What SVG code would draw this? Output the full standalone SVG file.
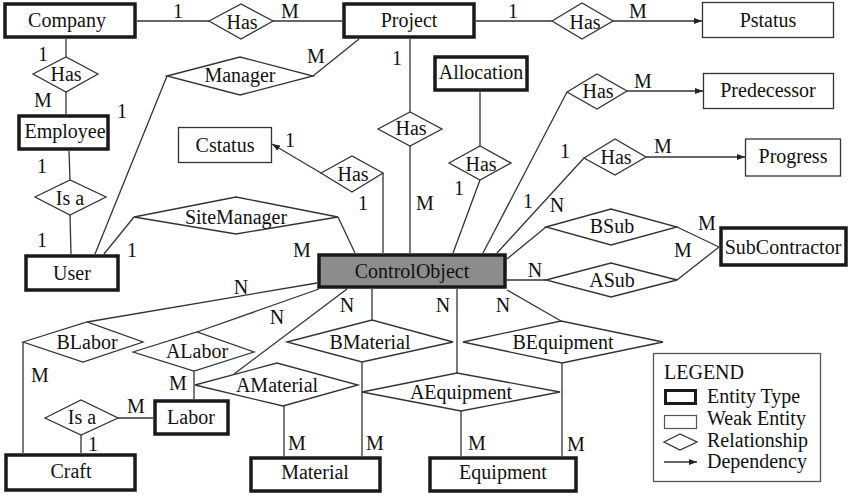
<svg xmlns="http://www.w3.org/2000/svg" width="850" height="497" viewBox="0 0 850 497">
<defs>
<marker id="arr" viewBox="0 0 8 6" refX="8" refY="3" markerWidth="8" markerHeight="6" markerUnits="userSpaceOnUse" orient="auto">
<path d="M0,0 L8,3 L0,6 z" fill="#222"/>
</marker>
</defs>
<style>
text{font-size:20px;fill:#111;text-anchor:middle}
.ent{fill:#fff;stroke:#1a1a1a;stroke-width:3.5}
.weak{fill:#fff;stroke:#333;stroke-width:1.3}
.rel{fill:#fff;stroke:#333;stroke-width:1.3}
.co{fill:#8c8c8c;stroke:#1a1a1a;stroke-width:3.5}
#connectors line{stroke:#333;stroke-width:1.3;fill:none}
.lg{text-anchor:start}
</style>
<rect width="850" height="497" fill="#fff"/>
<g id="connectors">
<line x1="137" y1="21" x2="209" y2="21"/>
<line x1="273" y1="21" x2="342" y2="21"/>
<line x1="476" y1="21" x2="552" y2="21"/>
<line x1="613" y1="21" x2="702" y2="21" marker-end="url(#arr)"/>
<line x1="66" y1="39" x2="66" y2="57"/>
<line x1="66" y1="92" x2="66" y2="114"/>
<line x1="167" y1="76" x2="95" y2="254"/>
<line x1="313" y1="76" x2="359" y2="39"/>
<line x1="410" y1="39" x2="410" y2="112"/>
<line x1="410" y1="146" x2="410" y2="253"/>
<line x1="480" y1="92" x2="480" y2="146"/>
<line x1="480" y1="180" x2="453" y2="253"/>
<line x1="567" y1="92" x2="483" y2="253"/>
<line x1="627" y1="91" x2="703" y2="91" marker-end="url(#arr)"/>
<line x1="584" y1="158" x2="497" y2="253"/>
<line x1="646" y1="157" x2="745" y2="157" marker-end="url(#arr)"/>
<line x1="321" y1="173" x2="272" y2="144" marker-end="url(#arr)"/>
<line x1="383" y1="173" x2="383" y2="253"/>
<line x1="69" y1="151" x2="70" y2="180"/>
<line x1="70" y1="215" x2="71" y2="254"/>
<line x1="134" y1="217" x2="104" y2="254"/>
<line x1="338" y1="217" x2="355" y2="253"/>
<line x1="507" y1="259" x2="546" y2="227"/>
<line x1="507" y1="280" x2="546" y2="280"/>
<line x1="677" y1="227" x2="719" y2="247"/>
<line x1="677" y1="280" x2="719" y2="247"/>
<line x1="317" y1="283" x2="87" y2="322"/>
<line x1="319" y1="289" x2="197" y2="332"/>
<line x1="347" y1="289" x2="234" y2="374"/>
<line x1="372" y1="289" x2="372" y2="320"/>
<line x1="457" y1="289" x2="457" y2="373"/>
<line x1="507" y1="290" x2="561" y2="321"/>
<line x1="23" y1="342" x2="23" y2="453"/>
<line x1="194" y1="371" x2="194" y2="399"/>
<line x1="118" y1="418" x2="153" y2="418"/>
<line x1="81" y1="435" x2="81" y2="453"/>
<line x1="284" y1="405" x2="284" y2="456"/>
<line x1="362" y1="362" x2="362" y2="456"/>
<line x1="461" y1="411" x2="461" y2="456"/>
<line x1="562" y1="363" x2="562" y2="456"/>
</g>
<g font-family="'Liberation Serif', Tinos, 'DejaVu Serif', 'Times New Roman', serif">
<g id="company"><rect class="ent" x="5" y="4" width="130" height="33"/><text x="67" y="27">Company</text></g>
<g id="project"><rect class="ent" x="344" y="4" width="130" height="33"/><text x="409" y="27">Project</text></g>
<g id="pstatus"><rect class="weak" x="702.5" y="2.5" width="131" height="35"/><text x="768" y="27">Pstatus</text></g>
<g id="employee"><rect class="ent" x="19" y="116" width="89" height="33"/><text x="65" y="138">Employee</text></g>
<g id="allocation"><rect class="ent" x="435" y="57" width="92" height="33"/><text x="481" y="79">Allocation</text></g>
<g id="predecessor"><rect class="weak" x="703.5" y="73.5" width="130" height="35"/><text x="768" y="97">Predecessor</text></g>
<g id="cstatus"><rect class="weak" x="178.5" y="127.5" width="93" height="35"/><text x="225" y="152">Cstatus</text></g>
<g id="progress"><rect class="weak" x="745.5" y="139" width="95" height="37"/><text x="793" y="163">Progress</text></g>
<g id="user"><rect class="ent" x="26" y="256" width="92" height="34"/><text x="72" y="280">User</text></g>
<g id="controlobject"><rect class="co" x="319" y="255" width="186" height="32"/><text x="412" y="278">ControlObject</text></g>
<g id="subcontractor"><rect class="ent" x="721" y="228" width="125" height="37"/><text x="783" y="254">SubContractor</text></g>
<g id="labor"><rect class="ent" x="155" y="401" width="73" height="33"/><text x="191" y="424">Labor</text></g>
<g id="craft"><rect class="ent" x="6" y="455" width="129" height="35"/><text x="71" y="478">Craft</text></g>
<g id="material"><rect class="ent" x="251" y="458" width="129" height="33"/><text x="315" y="479">Material</text></g>
<g id="equipment"><rect class="ent" x="430" y="458" width="146" height="33"/><text x="503" y="479">Equipment</text></g>

<g id="has-company-project"><polygon class="rel" points="209,21 241,4 273,21 241,39"/><text x="242" y="29">Has</text></g>
<g id="has-project-pstatus"><polygon class="rel" points="552,21 582,3 613,21 582,39"/><text x="585" y="29">Has</text></g>
<g id="has-company-employee"><polygon class="rel" points="33,74 66,57 98,74 66,92"/><text x="66" y="81">Has</text></g>
<g id="manager"><polygon class="rel" points="167,76 240,57 313,76 240,95"/><text x="240" y="82">Manager</text></g>
<g id="has-project-co"><polygon class="rel" points="378,129 410,112 442,129 410,146"/><text x="411" y="135">Has</text></g>
<g id="has-allocation-co"><polygon class="rel" points="449,163 480,146 511,163 480,180"/><text x="481" y="171">Has</text></g>
<g id="has-predecessor"><polygon class="rel" points="567,92 597,74 627,91 597,109"/><text x="598" y="98">Has</text></g>
<g id="has-progress"><polygon class="rel" points="584,158 615,139 646,157 615,175"/><text x="616" y="164">Has</text></g>
<g id="has-cstatus"><polygon class="rel" points="321,173 352,156 383,173 352,192"/><text x="353" y="181">Has</text></g>
<g id="isa-employee-user"><polygon class="rel" points="35,197 70,180 106,197 70,215"/><text x="70" y="205">Is a</text></g>
<g id="sitemanager"><polygon class="rel" points="134,217 236,197 338,217 236,234"/><text x="236" y="224">SiteManager</text></g>
<g id="bsub"><polygon class="rel" points="546,227 611,209 677,227 611,245"/><text x="612" y="233">BSub</text></g>
<g id="asub"><polygon class="rel" points="546,280 611,263 677,280 611,297"/><text x="612" y="287">ASub</text></g>
<g id="blabor"><polygon class="rel" points="23,342 87,322 143,342 83,362"/><text x="87" y="349">BLabor</text></g>
<g id="alabor"><polygon class="rel" points="133,352 197,332 254,352 194,371"/><text x="197" y="358">ALabor</text></g>
<g id="amaterial"><polygon class="rel" points="195,385 277,363 358,385 283,406"/><text x="277" y="392">AMaterial</text></g>
<g id="bmaterial"><polygon class="rel" points="287,342 372,320 453,342 362,362"/><text x="370" y="349">BMaterial</text></g>
<g id="bequipment"><polygon class="rel" points="463,342 561,321 663,342 562,363"/><text x="563" y="349">BEquipment</text></g>
<g id="aequipment"><polygon class="rel" points="362,392 457,373 560,392 461,411"/><text x="461" y="399">AEquipment</text></g>
<g id="isa-craft-labor"><polygon class="rel" points="45,418 81,400 118,418 81,435"/><text x="82" y="424">Is a</text></g>

<g id="labels">
<text x="178" y="18">1</text><text x="290" y="18">M</text>
<text x="513" y="18">1</text><text x="638" y="18">M</text>
<text x="43" y="61">1</text><text x="43" y="107">M</text>
<text x="122" y="118">1</text>
<text x="316" y="63">M</text>
<text x="397" y="65">1</text>
<text x="42" y="173">1</text><text x="42" y="247">1</text>
<text x="132" y="257">1</text><text x="302" y="257">M</text>
<text x="290" y="147">1</text><text x="363" y="210">1</text>
<text x="425" y="210">M</text><text x="459" y="195">1</text>
<text x="643" y="88">M</text>
<text x="565" y="158">1</text><text x="663" y="153">M</text>
<text x="528" y="208">1</text><text x="557" y="212">N</text>
<text x="707" y="230">M</text><text x="683" y="257">M</text>
<text x="535" y="277">N</text>
<text x="241" y="294">N</text><text x="277" y="324">N</text>
<text x="347" y="312">N</text><text x="443" y="312">N</text><text x="503" y="312">N</text>
<text x="40" y="382">M</text><text x="178" y="390">M</text>
<text x="136" y="413">M</text><text x="93" y="451">1</text>
<text x="297" y="450">M</text><text x="375" y="450">M</text>
<text x="477" y="450">M</text><text x="576" y="451">M</text>
</g>

<g id="legend">
<rect x="653.5" y="353.5" width="167" height="128" fill="#fff" stroke="#555" stroke-width="1.3"/>
<text class="lg" x="664" y="379">LEGEND</text>
<rect x="665.5" y="390.5" width="30" height="13" fill="#fff" stroke="#1a1a1a" stroke-width="3"/>
<text class="lg" x="707" y="403">Entity Type</text>
<rect x="664.5" y="415.5" width="32" height="13" fill="#fff" stroke="#555" stroke-width="1.2"/>
<text class="lg" x="707" y="425">Weak Entity</text>
<polygon points="664,442 680,434 697,442 680,450" fill="#fff" stroke="#333" stroke-width="1.3"/>
<text class="lg" x="707" y="447">Relationship</text>
<line x1="664" y1="462" x2="697" y2="462" stroke="#333" stroke-width="1.3" marker-end="url(#arr)"/>
<text class="lg" x="707" y="468">Dependency</text>
</g>
</g>
</svg>
